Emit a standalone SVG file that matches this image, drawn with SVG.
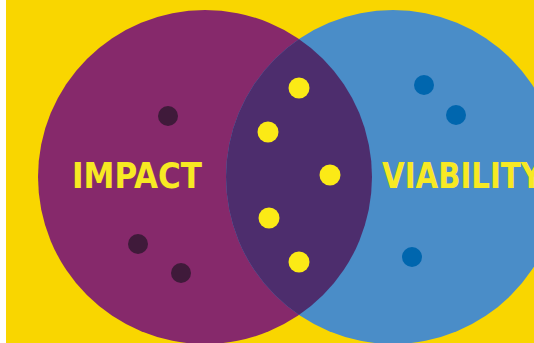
<svg xmlns="http://www.w3.org/2000/svg" width="534" height="343" viewBox="0 0 534 343">
<defs>
<style>
.lbl{font-family:"DejaVu Sans Condensed","Liberation Sans",sans-serif;font-weight:bold;font-size:36px;fill:#F7E923}
.yd{fill:#FBEA16}
.pd{fill:#3F1A3A}
.bd{fill:#0066AE}
</style>
<clipPath id="clipL"><circle cx="205" cy="177" r="167"/></clipPath>
</defs>
<rect x="0" y="0" width="534" height="343" fill="#FFFFFF"/>
<rect x="6" y="0" width="528" height="343" fill="#F9D600"/>
<g id="impact">
<circle cx="205" cy="177" r="167" fill="#86296B"/>
</g>
<g id="viability">
<circle cx="393" cy="177" r="167" fill="#4A8DC8"/>
</g>
<g id="overlap">
<circle cx="393" cy="177" r="167" fill="#4D2D6D" clip-path="url(#clipL)"/>
</g>
<g id="connectors"></g>
<g id="impact-dots">
<circle class="pd" cx="168" cy="116" r="10"/>
<circle class="pd" cx="138" cy="244" r="10"/>
<circle class="pd" cx="181" cy="273" r="10"/>
</g>
<g id="overlap-dots">
<circle class="yd" cx="299" cy="88" r="10.5"/>
<circle class="yd" cx="268" cy="132" r="10.5"/>
<circle class="yd" cx="330" cy="175" r="10.5"/>
<circle class="yd" cx="269" cy="218" r="10.5"/>
<circle class="yd" cx="299" cy="262" r="10.5"/>
</g>
<g id="viability-dots">
<circle class="bd" cx="424" cy="85" r="10"/>
<circle class="bd" cx="456" cy="115" r="10"/>
<circle class="bd" cx="412" cy="257" r="10"/>
</g>
<g id="labels">
<text class="lbl" x="72" y="188" textLength="130" lengthAdjust="spacingAndGlyphs">IMPACT</text>
<text class="lbl" x="382" y="188" textLength="160" lengthAdjust="spacingAndGlyphs">VIABILITY</text>
</g>
</svg>
